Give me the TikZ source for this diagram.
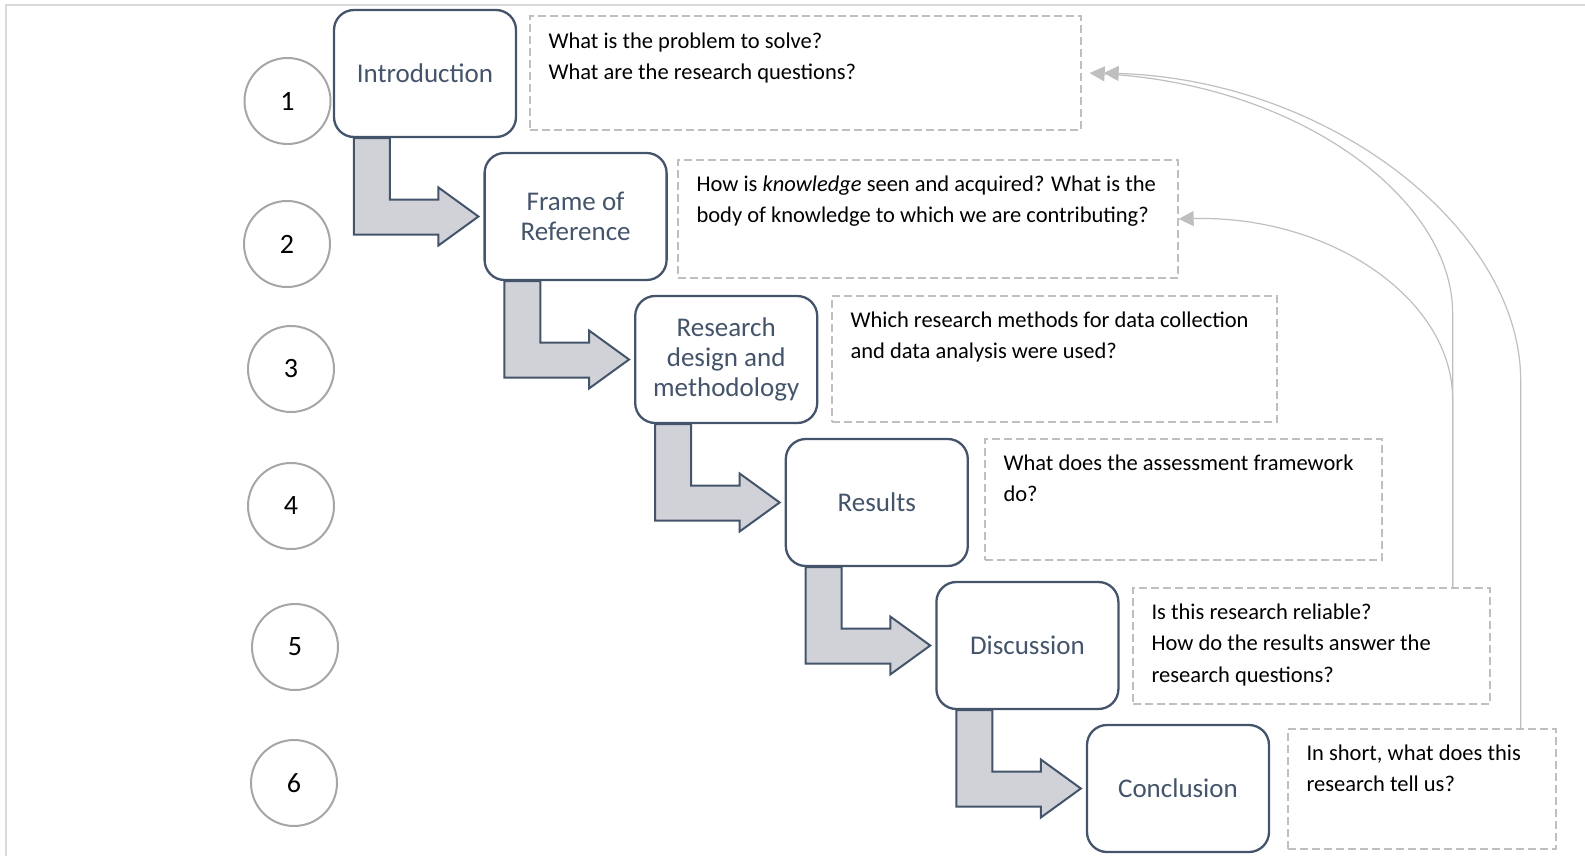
\documentclass[tikz,border=0pt]{standalone}
\usepackage{fontspec}
\setmainfont{Carlito}
\usetikzlibrary{arrows.meta, calc}
\definecolor{slate}{HTML}{44546A}
\definecolor{ringgray}{HTML}{A6A6A6}
\definecolor{dashgray}{HTML}{BFBFBF}
\definecolor{arrowfill}{HTML}{D0D2D7}
\definecolor{framegray}{HTML}{D9D9D9}

\begin{document}
\begin{tikzpicture}[x=1pt, y=1pt, stage/.style={draw=slate, line width=2.3pt,
      rounded corners=20pt, fill=white, minimum width=182pt, minimum
      height=127pt, align=center, text=slate,
      font=\fontsize{27pt}{30pt}\selectfont}, numcircle/.style={circle,
      draw=ringgray, line width=2pt, minimum size=86pt,
      font=\fontsize{28pt}{30pt}\selectfont}, note/.style={draw=dashgray,
      line width=1.3pt, dash pattern=on 8pt off 4pt, inner sep=0pt},
      notetext/.style={anchor=north west, inner sep=0pt, align=left,
      font=\fontsize{22.5pt}{31.5pt}\selectfont}, flowarrow/.style={draw=slate,
      line width=2pt, fill=arrowfill, line join=miter},
      backarrow/.style={dashgray, line width=1.2pt,
      -{Triangle[length=15pt,width=15pt]}} ]
    \useasboundingbox (0,0) rectangle (1585,-856);

    % Frame
    \draw[framegray, line width=1.5pt] (6,-856) -- (6,-5) -- (1585,-5);

    % Step numbers
    \node[numcircle] (c1) at (287.5,-101) {1}; \node[numcircle] (c2) at
    (287,-244) {2}; \node[numcircle] (c3) at (291,-369) {3};
    \node[numcircle] (c4) at (291,-506) {4}; \node[numcircle] (c5) at
    (295,-647) {5}; \node[numcircle] (c6) at (294,-783) {6};

    % Chapters
    \node[stage] (b1) at (425,-73.5) {Introduction}; \node[stage] (b2) at
    (575.6,-216.5) {Frame of\\Reference}; \node[stage] (b3) at
    (726.2,-359.5) {Research\\design and\\methodology}; \node[stage] (b4) at
    (876.8,-502.5) {Results}; \node[stage] (b5) at (1027.4,-645.5)
    {Discussion}; \node[stage] (b6) at (1178,-788.5) {Conclusion};

    % Bent arrows between chapters
    \draw[flowarrow] ([xshift=21pt]b1.south west) |- ([xshift=-45pt,yshift=-18pt]b2.west) -- ++(0,-11) -- ([xshift=-5pt]b2.west) -- ([xshift=-45pt,yshift=29pt]b2.west) -- ++(0,-12) -| ([xshift=57pt]b1.south west) -- cycle;
    \draw[flowarrow] ([xshift=21pt]b2.south west) |- ([xshift=-45pt,yshift=-18pt]b3.west) -- ++(0,-11) -- ([xshift=-5pt]b3.west) -- ([xshift=-45pt,yshift=29pt]b3.west) -- ++(0,-12) -| ([xshift=57pt]b2.south west) -- cycle;
    \draw[flowarrow] ([xshift=21pt]b3.south west) |- ([xshift=-45pt,yshift=-18pt]b4.west) -- ++(0,-11) -- ([xshift=-5pt]b4.west) -- ([xshift=-45pt,yshift=29pt]b4.west) -- ++(0,-12) -| ([xshift=57pt]b3.south west) -- cycle;
    \draw[flowarrow] ([xshift=21pt]b4.south west) |- ([xshift=-45pt,yshift=-18pt]b5.west) -- ++(0,-11) -- ([xshift=-5pt]b5.west) -- ([xshift=-45pt,yshift=29pt]b5.west) -- ++(0,-12) -| ([xshift=57pt]b4.south west) -- cycle;
    \draw[flowarrow] ([xshift=21pt]b5.south west) |- ([xshift=-45pt,yshift=-18pt]b6.west) -- ++(0,-11) -- ([xshift=-5pt]b6.west) -- ([xshift=-45pt,yshift=29pt]b6.west) -- ++(0,-12) -| ([xshift=57pt]b5.south west) -- cycle;

    % Question boxes
    \node[note, minimum width=551pt, minimum height=114pt] (n1) at
    (805.5,-73) {}; \node[note, minimum width=500pt, minimum height=118pt]
    (n2) at (928,-219) {}; \node[note, minimum width=445pt, minimum
    height=126pt] (n3) at (1054.5,-359) {}; \node[note, minimum width=397pt,
    minimum height=121pt] (n4) at (1183.5,-499.5) {}; \node[note, minimum
    width=357pt, minimum height=116pt] (n5) at (1311.5,-646) {};
    \node[note, minimum width=268pt, minimum height=120pt] (n6) at
    (1422,-789) {};

    % Questions
    \node[notetext] (t1) at ([xshift=19pt,yshift=-17pt]n1.north west) {What
    is the problem to solve?\\What are the research questions?};
    \node[notetext] (t2) at ([xshift=19pt,yshift=-16pt]n2.north west) {How
    is \textit{knowledge} seen and acquired? What is the\\body of knowledge
    to which we are contributing?}; \node[notetext] (t3) at
    ([xshift=19pt,yshift=-16pt]n3.north west) {Which research methods for
    data collection\\and data analysis were used?}; \node[notetext] (t4) at
    ([xshift=19pt,yshift=-16pt]n4.north west) {What does the assessment
    framework\\do?}; \node[notetext] (t5) at
    ([xshift=19pt,yshift=-16pt]n5.north west) {Is this research
    reliable?\\How do the results answer the\\research questions?};
    \node[notetext] (t6) at ([xshift=19pt,yshift=-16pt]n6.north west) {In
    short, what does this\\research tell us?};

    % Links back to the opening questions
    \draw[backarrow] ([xshift=-38pt]n5.north east) -- ++(0,274) .. controls +(0,114) and +(211,-12) .. ([xshift=8pt]n1.east);
    \draw[backarrow] ([xshift=-36pt]n6.north east) -- ++(0,348) .. controls +(0,151) and +(227,-7) .. ([xshift=22pt]n1.east);
    \draw[backarrow] ([xshift=-38pt]n5.north east) -- ++(0,188) .. controls +(0,100) and +(152,4) .. (n2.east);

  \end{tikzpicture}
\end{document}
